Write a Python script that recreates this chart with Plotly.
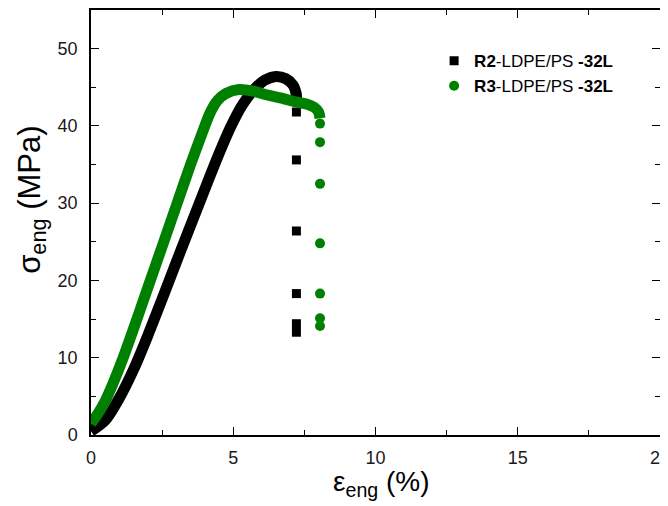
import plotly.graph_objects as go

# R2 (black) dense curve
r2_strain = [0.0, 0.5, 1.0, 1.5, 2.0, 2.5, 3.0, 3.5, 4.0, 4.5, 4.9, 5.3, 5.7, 6.1, 6.5, 6.85, 7.1, 7.22, 7.22]
r2_stress = [0.5, 1.9, 4.8, 8.5, 12.9, 17.6, 22.4, 27.1, 31.8, 36.4, 39.8, 42.6, 44.6, 45.9, 46.4, 46.1, 45.3, 44.0, 42.8]
# R2 tail points (sparse)
r2_tail_strain = [7.22, 7.22, 7.22, 7.22, 7.22, 7.22]
r2_tail_stress = [41.8, 35.6, 26.4, 18.3, 14.4, 13.3]

# R3 (green) dense curve
r3_strain = [0.0, 0.25, 0.5, 0.8, 1.1, 1.5, 2.0, 2.5, 3.0, 3.5, 3.9, 4.2, 4.45, 4.75, 5.2, 5.7, 6.2, 6.7, 7.2, 7.6, 7.85, 8.0, 8.05]
r3_stress = [1.5, 2.8, 4.4, 6.9, 9.7, 13.8, 19.1, 24.4, 29.7, 35.0, 39.0, 41.8, 43.3, 44.2, 44.7, 44.5, 44.0, 43.6, 43.1, 42.8, 42.4, 41.8, 41.0]
r3_tail_strain = [8.05, 8.05, 8.05, 8.05, 8.05, 8.05, 8.05]
r3_tail_stress = [40.3, 37.9, 32.5, 24.8, 18.3, 15.1, 14.1]

x_ticks = [0, 5, 10, 15, 20]
y_ticks = [0, 10, 20, 30, 40, 50]

BLACK = "#000000"
GREEN = "#008000"
FONT = "Liberation Sans, Arial, sans-serif"

fig = go.Figure()
fig.add_trace(go.Scatter(x=r2_strain, y=r2_stress, mode="lines",
                         line=dict(color=BLACK, width=11, shape="spline", smoothing=0.8),
                         showlegend=False, hoverinfo="skip"))
fig.add_trace(go.Scatter(x=r2_tail_strain, y=r2_tail_stress, mode="markers",
                         marker=dict(symbol="square", size=9, color=BLACK),
                         name="<b>R2</b>-LDPE/PS <b>-32L</b>"))
fig.add_trace(go.Scatter(x=r3_strain, y=r3_stress, mode="lines",
                         line=dict(color=GREEN, width=11, shape="spline", smoothing=0.8),
                         showlegend=False, hoverinfo="skip"))
fig.add_trace(go.Scatter(x=r3_tail_strain, y=r3_tail_stress, mode="markers",
                         marker=dict(symbol="circle", size=10, color=GREEN),
                         name="<b>R3</b>-LDPE/PS <b>-32L</b>"))

axis_common = dict(
    showline=True, linecolor="black", linewidth=1.5, mirror="allticks",
    ticks="inside", ticklen=8, tickwidth=1, tickcolor="black",
    showgrid=False, zeroline=False, automargin=False, ticklabeloverflow="allow",
    tickfont=dict(family=FONT, size=18, color="#1a1a1a"),
)

# page body has an 8px default margin, so the figure is sized to fit the window
fig.update_layout(
    width=660, height=498,
    margin=dict(l=83, r=8, t=2, b=71),
    paper_bgcolor="white", plot_bgcolor="white",
    font=dict(family=FONT, color="black"),
    xaxis=dict(range=[0, 20], tickvals=x_ticks, ticklabelstandoff=6,
               minor=dict(ticks="inside", ticklen=5, dtick=2.5, tick0=0, tickcolor="black"),
               **axis_common),
    yaxis=dict(range=[0, 55], tickvals=y_ticks, ticklabelstandoff=8,
               minor=dict(ticks="inside", ticklen=5, dtick=5, tick0=0, tickcolor="black"),
               **axis_common),
    legend=dict(x=0.603, y=0.922, xanchor="left", yanchor="top",
                font=dict(family=FONT, size=17, color="black"),
                bgcolor="rgba(0,0,0,0)", tracegroupgap=0, itemwidth=30),
    annotations=[
        dict(text="σ<sub>eng</sub> (MPa)", xref="paper", yref="paper",
             x=-0.104, y=0.553, xanchor="center", yanchor="middle",
             textangle=-90, showarrow=False,
             font=dict(family=FONT, size=31, color="black")),
        dict(text="ε<sub>eng</sub> (%)", xref="paper", yref="paper",
             x=0.51, y=-0.115, xanchor="center", yanchor="middle",
             showarrow=False,
             font=dict(family=FONT, size=28, color="black")),
    ],
)

fig.write_html("out.html")
